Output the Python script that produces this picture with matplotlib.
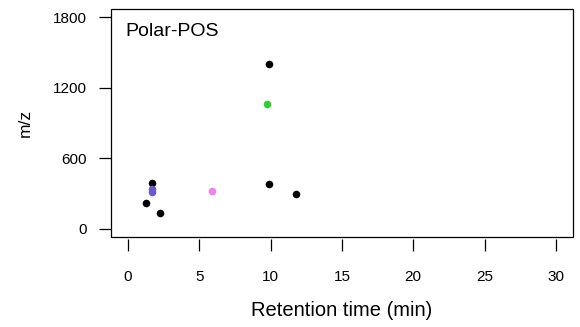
import matplotlib
matplotlib.use("Agg")
import matplotlib.pyplot as plt
from matplotlib.patches import Rectangle

plt.rcParams['font.family'] = ['Liberation Sans', 'DejaVu Sans']

# retention time (min) and m/z of each feature
black_rt = [9.86, 1.72, 1.30, 2.23, 9.88, 11.81]
black_mz = [1404, 388, 218, 136, 382, 297]
green_rt = [9.77]
green_mz = [1064]
blue_rt = [1.72, 1.72]
blue_mz = [340, 315]
pink_rt = [5.87]
pink_mz = [323]

xticks = [0, 5, 10, 15, 20, 25, 30]
yticks = [0, 600, 1200, 1800]

fig = plt.figure(figsize=(5.8, 3.27), dpi=100)
ax = fig.add_axes([0.1909, 0.2752, 0.7971, 0.6973])

ms = 30
ax.scatter(black_rt, black_mz, s=ms, color='black', linewidths=0, zorder=3)
ax.scatter(green_rt, green_mz, s=ms, color='#32CD32', linewidths=0, zorder=3)
ax.scatter(blue_rt, blue_mz, s=ms, color='#6A5ACD', linewidths=0, zorder=3)
ax.scatter(pink_rt, pink_mz, s=ms, color='#EE82EE', linewidths=0, zorder=3)

ax.set_xlim(-1.2, 31.2)
ax.set_ylim(-72, 1872)
ax.set_xticks(xticks)
ax.set_yticks(yticks)

# R-like frame: x ticks hang a little below the box
for s in ax.spines.values():
    s.set_visible(False)
ax.spines['bottom'].set_position(('outward', 1.5))
ax.add_patch(Rectangle((0, 0), 1, 1, transform=ax.transAxes, fill=False,
                       edgecolor='black', linewidth=0.9, clip_on=False, zorder=4))
ax.tick_params(axis='x', length=8.5, width=0.9, pad=14, labelsize=11)
ax.tick_params(axis='y', length=8.5, width=0.9, pad=9, labelsize=11)

ax.set_xlabel('Retention time (min)', fontsize=14.5, labelpad=12)
ax.set_ylabel('m/z', fontsize=12.5, labelpad=14)

ax.text(0.031, 0.883, 'Polar-POS', transform=ax.transAxes, fontsize=14,
        ha='left', va='baseline')

fig.savefig('out.png', dpi=100)
